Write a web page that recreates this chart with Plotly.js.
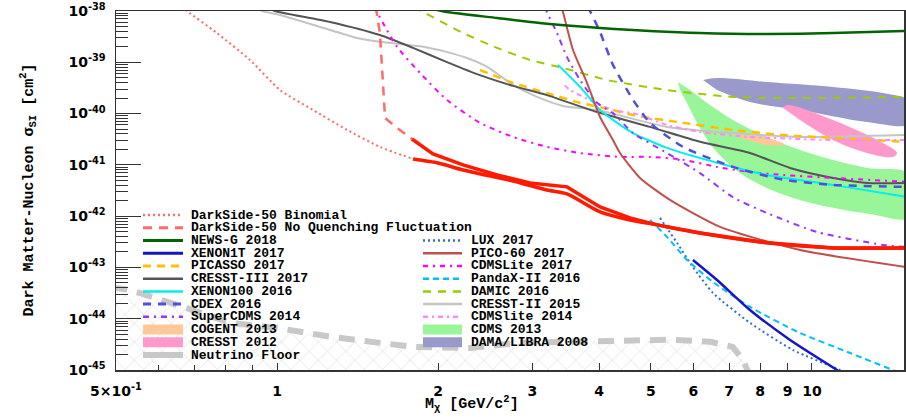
<!DOCTYPE html>
<html><head><meta charset="utf-8">
<script src="https://cdn.plot.ly/plotly-3.0.1.min.js"></script>
<style>html,body{margin:0;padding:0;background:#fff}</style>
</head><body><div id="chart" style="width:906px;height:417px"></div>
<script>
// ---------------- data (WIMP mass in GeV/c^2, cross section in cm^2) ----------------
const ds50BinomialX = [0.665, 0.679, 0.772, 0.890, 1.013, 1.168, 1.352, 1.557, 1.796];
const ds50BinomialY = [1.25e-38, 1.0e-38, 3.72e-39, 1.11e-39, 2.88e-40, 1.17e-40, 4.79e-41, 2.24e-41, 1.30e-41];
const ds50NqX = [1.53, 1.557, 1.571, 1.592, 1.676, 1.787];
const ds50NqY = [1.2e-38, 3.72e-39, 8.13e-40, 8.20e-41, 5.25e-41, 3.20e-41];
const ds50NqSolidX = [1.787, 1.957, 2.227, 2.578, 2.971, 3.484, 4.016, 4.57, 5.132, 6.176, 8.24, 10.95, 15.0];
const ds50NqSolidY = [3.20e-41, 1.63e-41, 1.00e-41, 6.35e-42, 4.44e-42, 3.72e-42, 1.51e-42, 9.23e-43, 6.76e-43, 4.68e-43, 3.02e-43, 2.40e-43, 2.40e-43];
const ds50BinSolidX = [1.796, 2.0, 2.227, 2.761, 3.196, 3.484, 4.016, 4.57, 5.132, 6.176, 8.24, 10.95, 15.0];
const ds50BinSolidY = [1.30e-41, 1.09e-41, 7.94e-42, 4.85e-42, 3.24e-42, 2.71e-42, 1.21e-42, 8.43e-43, 6.76e-43, 4.68e-43, 3.02e-43, 2.40e-43, 2.40e-43];

const newsgX = [1.95, 2.078, 2.578, 3.196, 4.016, 6.176, 8.24, 10.95, 15.0];
const newsgY = [1.1e-38, 9.55e-39, 7.31e-39, 5.62e-39, 4.68e-39, 3.72e-39, 3.55e-39, 3.72e-39, 4.07e-39];
const xenon1tX = [5.99, 6.645, 7.657, 9.10, 11.14, 11.4];
const xenon1tY = [1.40e-43, 5.70e-44, 1.48e-44, 3.86e-45, 1.0e-45, 8.5e-46];
const luxX = [5.198, 5.594, 5.99, 6.53, 7.657, 9.215, 11.28, 11.6];
const luxY = [9.23e-43, 3.02e-43, 1.02e-43, 3.18e-44, 8.32e-45, 2.45e-45, 1.0e-45, 8.5e-46];
const pandaxX = [4.98, 5.357, 5.84, 6.53, 7.657, 9.497, 11.78, 14.17, 14.6];
const pandaxY = [8.43e-43, 3.94e-43, 1.40e-43, 5.21e-44, 1.70e-44, 5.28e-45, 2.15e-45, 1.0e-45, 9.0e-46];
const pico60X = [3.40, 3.424, 3.575, 3.797, 4.016, 4.246, 4.377, 4.77, 5.427, 6.73, 9.497, 15.0];
const pico60Y = [1.2e-38, 9.55e-39, 1.74e-39, 3.98e-40, 8.59e-41, 3.05e-41, 1.70e-41, 5.56e-42, 2.07e-42, 6.17e-43, 2.19e-43, 1.02e-43];
const picassoX = [2.395, 2.761, 3.196, 3.685, 4.246, 4.628, 5.74, 7.115, 8.83, 10.95, 15.0];
const picassoY = [7.08e-40, 3.98e-40, 2.51e-40, 1.62e-40, 1.17e-40, 9.33e-41, 6.61e-41, 4.79e-41, 3.83e-41, 3.34e-41, 2.82e-41];
const cresst3X = [0.97, 0.99, 1.256, 1.557, 1.796, 2.078, 2.395, 2.761, 3.196, 3.964, 4.98, 6.176, 7.657, 9.10, 10.95, 12.67, 15.0];
const cresst3Y = [1.1e-38, 1.0e-38, 6.11e-39, 3.40e-39, 1.91e-39, 1.01e-39, 5.62e-40, 3.47e-40, 2.29e-40, 1.07e-40, 5.50e-41, 2.82e-41, 1.70e-41, 8.71e-42, 5.56e-42, 4.44e-42, 4.44e-42];
const xenon100X = [3.351, 3.685, 4.016, 4.377, 4.628, 5.357, 6.645, 8.24, 10.95, 15.0];
const xenon100Y = [8.91e-40, 3.31e-40, 1.17e-40, 6.03e-41, 4.17e-41, 2.14e-41, 1.10e-41, 6.35e-42, 4.07e-42, 2.37e-42];
const cdexX = [3.80, 3.846, 4.016, 4.246, 4.628, 4.98, 5.74, 7.115, 8.83, 10.95, 15.0];
const cdexY = [1.2e-38, 1.0e-38, 3.89e-39, 8.91e-40, 1.86e-40, 6.61e-41, 2.24e-41, 9.12e-42, 5.13e-42, 4.07e-42, 3.72e-42];
const superCdmsX = [3.17, 3.196, 3.337, 3.484, 3.685, 3.964, 4.246, 4.628, 5.357, 6.176, 7.115, 8.24, 10.22, 13.57, 15.0];
const superCdmsY = [1.2e-38, 9.55e-39, 3.72e-39, 1.26e-39, 4.52e-40, 1.62e-40, 1.02e-40, 4.17e-41, 1.70e-41, 6.92e-42, 2.34e-42, 1.15e-42, 4.90e-43, 2.75e-43, 2.51e-43];
const cdmsLite17X = [1.52, 1.578, 1.676, 1.851, 2.078, 2.395, 2.761, 3.196, 3.685, 4.377, 4.98, 5.74, 6.645, 7.657, 8.83, 10.95, 15.0];
const cdmsLite17Y = [1.2e-38, 5.83e-39, 2.00e-39, 6.17e-40, 1.84e-40, 6.61e-41, 3.50e-41, 2.24e-41, 1.70e-41, 1.43e-41, 1.43e-41, 1.26e-41, 9.12e-42, 7.24e-42, 6.35e-42, 5.56e-42, 4.68e-42];
const cdmsLite14X = [3.45, 3.529, 4.246, 4.628, 5.357, 6.176, 7.657, 10.95, 15.0];
const cdmsLite14Y = [3.55e-40, 2.88e-40, 1.17e-40, 1.02e-40, 6.03e-41, 4.37e-41, 3.50e-41, 3.05e-41, 3.05e-41];
const damicX = [1.80, 1.875, 2.227, 2.578, 2.971, 3.424, 4.14, 5.357, 7.115, 9.497, 15.0];
const damicY = [1.2e-38, 9.55e-39, 3.72e-39, 1.91e-39, 1.11e-39, 7.76e-40, 4.52e-40, 2.88e-40, 2.11e-40, 2.01e-40, 2.11e-40];
const cresst2X = [0.92, 0.937, 1.013, 1.256, 1.411, 1.557, 1.875, 2.078, 2.265, 2.47, 2.761, 3.062, 3.424, 3.964, 5.357, 7.115, 9.497, 15.0];
const cresst2Y = [1.1e-38, 1.0e-38, 8.36e-39, 4.27e-39, 2.98e-39, 2.51e-39, 2.00e-39, 1.58e-39, 1.21e-39, 8.13e-40, 3.63e-40, 2.11e-40, 1.41e-40, 1.17e-40, 5.50e-41, 4.17e-41, 3.50e-41, 3.83e-41];
const nuFloorX = [0.49, 0.531, 0.659, 0.817, 1.0, 1.256, 1.795, 2.29, 2.84, 3.53, 4.38, 5.43, 6.45, 7.11, 7.43, 7.6];
const nuFloorY = [4.1e-44, 3.63e-44, 1.78e-44, 8.32e-45, 6.61e-45, 4.47e-45, 2.82e-45, 2.69e-45, 3.39e-45, 3.55e-45, 3.72e-45, 3.89e-45, 3.55e-45, 2.82e-45, 1.58e-45, 9.1e-46];

// signal regions (closed contours)
const cdms13X = [5.617, 5.916, 6.447, 7.115, 8.24, 9.497, 10.95, 12.67, 15.2, 15.2, 12.83, 10.95, 9.497, 8.24, 7.335, 6.59, 6.176, 5.865, 5.667];
const cdms13Y = [4.13e-40, 2.88e-40, 1.47e-40, 7.50e-41, 3.50e-41, 1.95e-41, 1.24e-41, 8.71e-42, 6.6e-42, 9.4e-43, 1.10e-42, 1.45e-42, 2.07e-42, 3.55e-42, 6.95e-42, 1.95e-41, 5.25e-41, 1.47e-40, 2.88e-40];
const damaX = [6.256, 6.645, 8.24, 10.95, 13.57, 15.2, 15.2, 12.67, 9.497, 7.657, 6.645];
const damaY = [4.52e-40, 4.94e-40, 4.13e-40, 3.31e-40, 2.51e-40, 1.75e-40, 6.3e-41, 6.85e-41, 1.17e-40, 1.68e-40, 2.88e-40];
const cresst12X = [8.83, 8.98, 10.95, 13.57, 14.42, 14.17, 12.67, 10.95, 9.497];
const cresst12Y = [1.29e-40, 1.47e-40, 7.50e-41, 2.67e-41, 1.71e-41, 1.43e-41, 1.71e-41, 3.05e-41, 7.50e-41];
const cogentX = [6.9, 7.6, 8.4, 8.9, 8.3, 7.4];
const cogentY = [4.4e-41, 4.0e-41, 3.2e-41, 2.5e-41, 2.4e-41, 3.3e-41];

// axis ticks
const xTickVals = [0.5, 1, 2, 3, 4, 5, 6, 7, 8, 9, 10];
const xTickText = ['5×10<sup>-1</sup>', '1', '2', '3', '4', '5', '6', '7', '8', '9', '10'];
const xMinorVals = [0.6, 0.7, 0.8, 0.9];
const yTickVals = [1e-45, 1e-44, 1e-43, 1e-42, 1e-41, 1e-40, 1e-39, 1e-38];
const yTickText = ['10<sup>-45</sup>', '10<sup>-44</sup>', '10<sup>-43</sup>', '10<sup>-42</sup>', '10<sup>-41</sup>', '10<sup>-40</sup>', '10<sup>-39</sup>', '10<sup>-38</sup>'];
const yMinorMantissa = [2, 3, 4, 5, 6, 7, 8, 9];

// legend columns
const legendLeft = ['DarkSide-50 Binomial', 'DarkSide-50 No Quenching Fluctuation', 'NEWS-G 2018', 'XENON1T 2017', 'PICASSO 2017', 'CRESST-III 2017', 'XENON100 2016', 'CDEX 2016', 'SuperCDMS 2014', 'COGENT 2013', 'CRESST 2012', 'Neutrino Floor'];
const legendRight = ['LUX 2017', 'PICO-60 2017', 'CDMSLite 2017', 'PandaX-II 2016', 'DAMIC 2016', 'CRESST-II 2015', 'CDMSlite 2014', 'CDMS 2013', 'DAMA/LIBRA 2008'];

// ---------------- styles ----------------
const styles = {
  'DarkSide-50 Binomial': {color: '#ff6a6a', width: 2, dash: '2px,3px'},
  'DarkSide-50 No Quenching Fluctuation': {color: '#ff6a6a', width: 2.5, dash: '9px,7px'},
  'DarkSide-50 solid': {color: '#ff1a00', width: 3.5, dash: 'solid'},
  'NEWS-G 2018': {color: '#006400', width: 2.5, dash: 'solid'},
  'XENON1T 2017': {color: '#1515c8', width: 2.5, dash: 'solid'},
  'PICASSO 2017': {color: '#ffc000', width: 2.5, dash: '8px,6px'},
  'CRESST-III 2017': {color: '#555555', width: 2, dash: 'solid'},
  'XENON100 2016': {color: '#00eeee', width: 2, dash: 'solid'},
  'CDEX 2016': {color: '#5050dd', width: 2.5, dash: '8px,7px'},
  'SuperCDMS 2014': {color: '#9933ff', width: 2, dash: '6px,5px,2px,5px'},
  'COGENT 2013': {fill: '#ffc896'},
  'CRESST 2012': {fill: '#ff99cc'},
  'Neutrino Floor': {color: '#c8c8c8', width: 6, dash: '16px,10px', legendDash: 'solid'},
  'LUX 2017': {color: '#2f6fd0', width: 2, dash: '2px,3px'},
  'PICO-60 2017': {color: '#c0504d', width: 2, dash: 'solid'},
  'CDMSLite 2017': {color: '#ff00ff', width: 2, dash: '5px,5px,2px,5px'},
  'PandaX-II 2016': {color: '#00bfff', width: 2, dash: '6px,4px'},
  'DAMIC 2016': {color: '#99cc00', width: 2, dash: '8px,7px'},
  'CRESST-II 2015': {color: '#c4c4c4', width: 2, dash: 'solid'},
  'CDMSlite 2014': {color: '#ff88ff', width: 2, dash: '5px,4px,2px,4px'},
  'CDMS 2013': {fill: '#98f598'},
  'DAMA/LIBRA 2008': {fill: '#9999cc'}
};

function lineTrace(name, x, y, shape) {
  const s = styles[name];
  return {type: 'scatter', mode: 'lines', x: x, y: y, showlegend: false, hoverinfo: 'skip',
    line: {color: s.color, width: s.width, dash: s.dash, shape: shape || 'spline', smoothing: 0.6}};
}
function fillTrace(name, x, y) {
  const s = styles[name];
  return {type: 'scatter', mode: 'lines', x: x, y: y, fill: 'toself', fillcolor: s.fill,
    showlegend: false, hoverinfo: 'skip', line: {width: 0, color: s.fill, shape: 'spline', smoothing: 1}};
}

const traces = [
  fillTrace('DAMA/LIBRA 2008', damaX, damaY),
  fillTrace('CDMS 2013', cdms13X, cdms13Y),
  fillTrace('CRESST 2012', cresst12X, cresst12Y),
  fillTrace('COGENT 2013', cogentX, cogentY),
  {type: 'scatter', mode: 'lines', x: nuFloorX.concat([nuFloorX[nuFloorX.length - 1], nuFloorX[0]]),
   y: nuFloorY.concat([5e-46, 5e-46]), fill: 'toself', fillcolor: 'rgba(0,0,0,0)',
   fillpattern: {shape: 'x', fgcolor: '#d4d4d4', bgcolor: 'rgba(255,255,255,0)', size: 13, solidity: 0.08},
   line: {width: 0}, showlegend: false, hoverinfo: 'skip'},
  lineTrace('Neutrino Floor', nuFloorX, nuFloorY, 'linear'),
  lineTrace('CRESST-II 2015', cresst2X, cresst2Y),
  lineTrace('DAMIC 2016', damicX, damicY),
  lineTrace('PICASSO 2017', picassoX, picassoY),
  lineTrace('CDMSlite 2014', cdmsLite14X, cdmsLite14Y),
  lineTrace('CRESST-III 2017', cresst3X, cresst3Y),
  lineTrace('CDMSLite 2017', cdmsLite17X, cdmsLite17Y),
  lineTrace('XENON100 2016', xenon100X, xenon100Y),
  lineTrace('CDEX 2016', cdexX, cdexY),
  lineTrace('SuperCDMS 2014', superCdmsX, superCdmsY),
  lineTrace('PICO-60 2017', pico60X, pico60Y),
  lineTrace('NEWS-G 2018', newsgX, newsgY),
  lineTrace('LUX 2017', luxX, luxY),
  lineTrace('PandaX-II 2016', pandaxX, pandaxY),
  lineTrace('XENON1T 2017', xenon1tX, xenon1tY),
  lineTrace('DarkSide-50 Binomial', ds50BinomialX, ds50BinomialY),
  lineTrace('DarkSide-50 No Quenching Fluctuation', ds50NqX, ds50NqY, 'linear'),
  lineTrace('DarkSide-50 solid', ds50NqSolidX, ds50NqSolidY, 'linear'),
  lineTrace('DarkSide-50 solid', ds50BinSolidX, ds50BinSolidY)
];

// ---------------- layout ----------------
const W = 906, H = 417, ML = 116, MR = 2, MT = 11, MB = 47;
const plotW = W - ML - MR, plotH = H - MT - MB;
const pxX = px => (px - ML) / plotW;
const pxY = py => (H - MB - py) / plotH;

const yMinorVals = [];
for (let k = -45; k < -38; k++) yMinorMantissa.forEach(m => yMinorVals.push(m * Math.pow(10, k)));

const monoFont = {family: 'Liberation Mono, DejaVu Sans Mono, monospace', size: 13, color: '#000', weight: 'bold'};
const annotations = [], shapes = [];
const rowTop = 215, rowStep = 12.73;
function addLegend(name, row, sx0, sx1, tx) {
  const s = styles[name];
  const yp = pxY(rowTop + row * rowStep);
  if (s.fill) {
    shapes.push({type: 'rect', xref: 'paper', yref: 'paper', x0: pxX(sx0), x1: pxX(sx1),
      y0: yp - 5 / plotH, y1: yp + 5 / plotH, fillcolor: s.fill, line: {width: 0}});
  } else {
    shapes.push({type: 'line', xref: 'paper', yref: 'paper', x0: pxX(sx0), x1: pxX(sx1), y0: yp, y1: yp,
      line: {color: s.color, width: Math.min(s.width + 0.5, 6), dash: s.legendDash || s.dash}});
  }
  annotations.push({xref: 'paper', yref: 'paper', x: pxX(tx), y: yp, xanchor: 'left', yanchor: 'middle',
    text: name, showarrow: false, font: monoFont});
}
legendLeft.forEach((n, i) => addLegend(n, i, 143, 183, 189));
legendRight.forEach((n, i) => addLegend(n, i + 2, 423, 462, 469));

annotations.push({xref: 'paper', yref: 'paper', x: pxX(28), y: 0.5, textangle: -90, xanchor: 'center', yanchor: 'middle',
  text: 'Dark Matter-Nucleon σ<sub>SI</sub> [cm<sup>2</sup>]', showarrow: false,
  font: {family: monoFont.family, size: 15, color: '#000', weight: 'bold'}});
annotations.push({xref: 'paper', yref: 'paper', x: pxX(472), y: pxY(404), xanchor: 'center', yanchor: 'middle',
  text: 'M<sub>χ</sub> [GeV/c<sup>2</sup>]', showarrow: false,
  font: {family: monoFont.family, size: 15, color: '#000', weight: 'bold'}});

const tickFont = {family: 'DejaVu Sans, sans-serif', size: 14, color: '#000', weight: 'bold'};
const layout = {
  width: W, height: H, margin: {l: ML, r: MR, t: MT, b: MB},
  paper_bgcolor: '#fff', plot_bgcolor: '#fff', showlegend: false,
  xaxis: {type: 'log', range: [Math.log10(0.5), Math.log10(14.86)], showgrid: false, zeroline: false,
    showline: true, mirror: true, linecolor: '#333', linewidth: 1.5,
    tickmode: 'array', tickvals: xTickVals, ticktext: xTickText, ticks: 'inside', ticklen: 7, tickcolor: '#333',
    tickfont: tickFont, ticklabelstandoff: 8,
    minor: {tickmode: 'array', tickvals: xMinorVals, ticks: 'inside', ticklen: 5, tickcolor: '#333', showgrid: false}},
  yaxis: {type: 'log', range: [-45, -38], showgrid: false, zeroline: false,
    showline: true, mirror: true, linecolor: '#333', linewidth: 1.5,
    tickmode: 'array', tickvals: yTickVals, ticktext: yTickText, ticks: 'inside', ticklen: 25, tickcolor: '#333',
    tickfont: tickFont, ticklabelstandoff: 6,
    minor: {tickmode: 'array', tickvals: yMinorVals, ticks: 'inside', ticklen: 12, tickcolor: '#333', showgrid: false}},
  shapes: shapes, annotations: annotations
};

Plotly.newPlot('chart', traces, layout, {staticPlot: true, displayModeBar: false});
</script></body></html>
